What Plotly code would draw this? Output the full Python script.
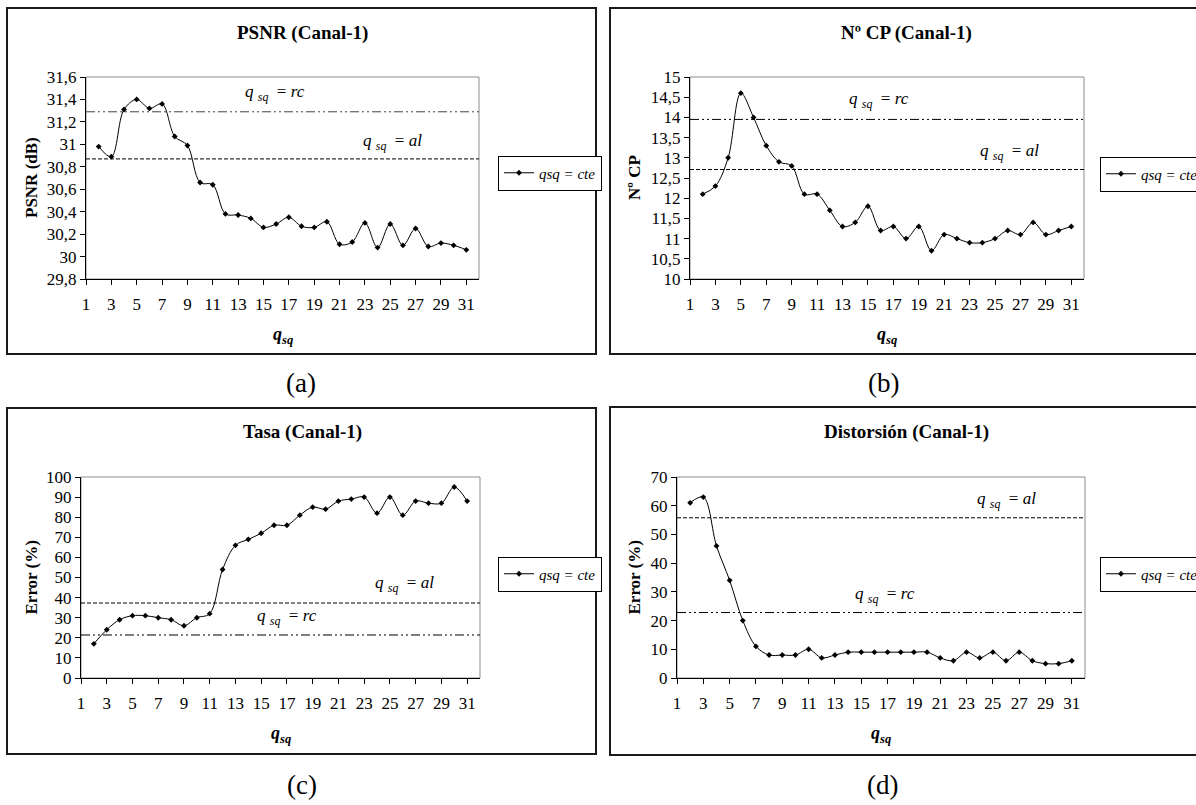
import plotly.graph_objects as go

W, H = 1196, 805
SERIF = "Liberation Serif, Times New Roman, serif"

# ---- data -------------------------------------------------------------
q_sq = list(range(2, 32))

psnr = [30.98, 30.89, 31.31, 31.40, 31.32, 31.36, 31.07, 30.99, 30.66, 30.64,
        30.38, 30.37, 30.34, 30.26, 30.29, 30.35, 30.27, 30.26, 30.31, 30.11,
        30.13, 30.30, 30.08, 30.29, 30.10, 30.25, 30.09, 30.12, 30.10, 30.06]

num_cp = [12.1, 12.3, 13.0, 14.6, 14.0, 13.3, 12.9, 12.8, 12.1, 12.1,
          11.7, 11.3, 11.4, 11.8, 11.2, 11.3, 11.0, 11.3, 10.7, 11.1,
          11.0, 10.9, 10.9, 11.0, 11.2, 11.1, 11.4, 11.1, 11.2, 11.3]

tasa = [17, 24, 29, 31, 31, 30, 29, 26, 30, 32,
        54, 66, 69, 72, 76, 76, 81, 85, 84, 88,
        89, 90, 82, 90, 81, 88, 87, 87, 95, 88]

distorsion = [61, 63, 46, 34, 20, 11, 8, 8, 8, 10,
              7, 8, 9, 9, 9, 9, 9, 9, 9, 7,
              6, 9, 7, 9, 6, 9, 6, 5, 5, 6]

# reference levels of the other quantiser strategies
psnr_rc, psnr_al = 31.29, 30.87
cp_rc, cp_al = 13.95, 12.71
tasa_rc, tasa_al = 21.4, 37.3
dist_rc, dist_al = 22.8, 55.8

x_ticks = list(range(1, 32, 2))

series_name = "<i>qsq = cte</i>"
rc_text = "<i>q</i> <sub><i>sq</i></sub>  = <i>rc</i>"
al_text = "<i>q</i> <sub><i>sq</i></sub>  = <i>al</i>"

# ---- panel layout (pixel boxes) ---------------------------------------
panels = [
    dict(key="a", title="PSNR (Canal-1)", ytitle="PSNR (dB)", y=psnr,
         yrange=[29.8, 31.6], dtick=0.2,
         frame=(7, 8, 596, 354), plot=(86, 77, 479, 279), title_xy=(302, 33),
         rc=psnr_rc, al=psnr_al, rc_pos=(15.9, 31.46), al_pos=(25.2, 31.02),
         legend=(498, 173), letter=(301, 383)),
    dict(key="b", title="Nº CP (Canal-1)", ytitle="Nº CP", y=num_cp,
         yrange=[10, 15], dtick=0.5,
         frame=(610, 8, 1205, 354), plot=(690, 77, 1084, 279), title_xy=(906, 33),
         rc=cp_rc, al=cp_al, rc_pos=(15.9, 14.43), al_pos=(26.1, 13.14),
         legend=(1100, 174), letter=(884, 383)),
    dict(key="c", title="Tasa (Canal-1)", ytitle="Error (%)", y=tasa,
         yrange=[0, 100], dtick=10,
         frame=(7, 408, 596, 754), plot=(81, 477, 480, 678), title_xy=(302, 432),
         rc=tasa_rc, al=tasa_al, rc_pos=(17.0, 30.5), al_pos=(26.1, 47),
         legend=(498, 574), letter=(302, 785)),
    dict(key="d", title="Distorsión (Canal-1)", ytitle="Error (%)", y=distorsion,
         yrange=[0, 70], dtick=10,
         frame=(610, 407, 1205, 755), plot=(677, 477, 1085, 678), title_xy=(906, 432),
         rc=dist_rc, al=dist_al, rc_pos=(16.8, 29), al_pos=(26.0, 62),
         legend=(1100, 574), letter=(882, 785)),
]


def px_x(v):
    return v / W


def px_y(v):
    return 1 - v / H


def label(x, y, text, size, xref="paper", yref="paper", angle=0):
    if xref == "paper":
        x = px_x(x)
    if yref == "paper":
        y = px_y(y)
    return dict(xref=xref, yref=yref, x=x, y=y, text=text, showarrow=False,
                xanchor="center", yanchor="middle", textangle=angle,
                font=dict(family=SERIF, size=size, color="black"))


fig = go.Figure()
shapes, annotations = [], []
layout_axes = {}

for i, p in enumerate(panels, start=1):
    sfx = "" if i == 1 else str(i)
    xa, ya = "x" + sfx, "y" + sfx
    leg = "legend" + sfx
    x0, y0, x1, y1 = p["plot"]

    fig.add_trace(go.Scatter(
        x=q_sq, y=p["y"], xaxis=xa, yaxis=ya, name=series_name, legend=leg,
        mode="lines+markers",
        line=dict(color="black", width=1, shape="spline", smoothing=1),
        marker=dict(symbol="diamond", size=4.5, color="black"),
    ))

    axis_common = dict(showgrid=False, zeroline=False, showline=True, linecolor="black",
                       linewidth=1, ticks="outside", ticklen=5, tickcolor="black",
                       tickfont=dict(family=SERIF, size=17, color="black"))
    layout_axes["xaxis" + sfx] = dict(
        axis_common, domain=[px_x(x0), px_x(x1)], range=[1, 32], anchor=ya,
        tickmode="array", tickvals=x_ticks, ticklabelstandoff=5)
    layout_axes["yaxis" + sfx] = dict(
        axis_common, domain=[px_y(y1), px_y(y0)], range=p["yrange"], anchor=xa,
        tick0=p["yrange"][0], dtick=p["dtick"])

    # grey plot-area border (top/right edges)
    shapes.append(dict(type="rect", xref=xa + " domain", yref=ya + " domain",
                       x0=0, x1=1, y0=0, y1=1, line=dict(color="#8c8c8c", width=1),
                       layer="below"))
    # reference levels
    shapes.append(dict(type="line", xref=xa + " domain", yref=ya, x0=0, x1=1,
                       y0=p["rc"], y1=p["rc"],
                       line=dict(color="#444" if p["key"] == "a" else "black", width=1,
                                 dash="9px,3px,2px,3px,2px,3px")))
    shapes.append(dict(type="line", xref=xa + " domain", yref=ya, x0=0, x1=1,
                       y0=p["al"], y1=p["al"],
                       line=dict(color="black", width=1, dash="4px,2px")))
    # outer frame
    fx0, fy0, fx1, fy1 = p["frame"]
    shapes.append(dict(type="rect", xref="paper", yref="paper",
                       x0=px_x(fx0), x1=px_x(fx1), y0=px_y(fy1), y1=px_y(fy0),
                       line=dict(color="#1a1a1a", width=2)))

    annotations.append(label(p["rc_pos"][0], p["rc_pos"][1], rc_text, 17, xa, ya))
    annotations.append(label(p["al_pos"][0], p["al_pos"][1], al_text, 17, xa, ya))

    # chart title
    annotations.append(label(p["title_xy"][0], p["title_xy"][1],
                             "<b>" + p["title"] + "</b>", 19))
    # axis titles
    annotations.append(label((x0 + x1) / 2, y1 + 56,
                             "<b><i>q</i></b><sub><b><i>sq</i></b></sub>", 18))
    annotations.append(label(fx0 + 24, (y0 + y1) / 2, "<b>" + p["ytitle"] + "</b>", 17,
                             angle=-90))
    # panel letter
    annotations.append(label(p["letter"][0], p["letter"][1], "(" + p["key"] + ")", 27))

    lx, ly = p["legend"]
    layout_axes[leg] = dict(x=px_x(lx), y=px_y(ly), xanchor="left", yanchor="middle",
                            bgcolor="white", bordercolor="black", borderwidth=1,
                            itemwidth=30, tracegroupgap=0,
                            font=dict(family=SERIF, size=15, color="black"))

fig.update_layout(
    width=W, height=H,
    margin=dict(l=0, r=0, t=0, b=0, autoexpand=False),
    paper_bgcolor="white", plot_bgcolor="white",
    separators=",.",
    showlegend=True,
    shapes=shapes, annotations=annotations,
    **layout_axes,
)

fig.write_html("out.html")
